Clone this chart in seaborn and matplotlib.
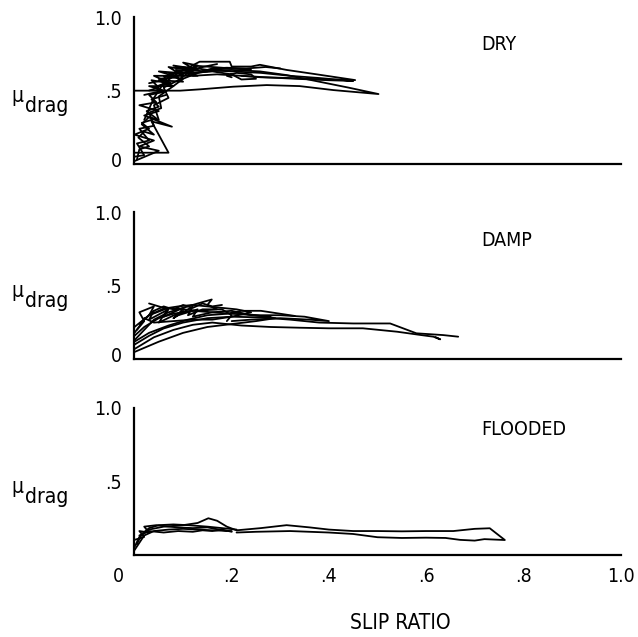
import pandas as pd
import matplotlib
matplotlib.use("Agg")
import matplotlib.pyplot as plt
import matplotlib.transforms as mtransforms
import seaborn as sns

sns.set_theme(style="white")
plt.rcParams["font.family"] = ["Liberation Sans Narrow", "DejaVu Sans"]
plt.rcParams["font.stretch"] = "condensed"
plt.rcParams["text.color"] = "black"

SLIP_TICKS = [0, 0.2, 0.4, 0.6, 0.8, 1.0]
SLIP_LABELS = ["0", ".2", ".4", ".6", ".8", "1.0"]
MU_TICKS = [0, 0.5, 1.0]
MU_LABELS = ["0", ".5", "1.0"]
PANELS = ["DRY", "DAMP", "FLOODED"]

# traced runs (slip ratio, mu_drag)
dry1_x = [0.0, 0.094, 0.135, 0.203, 0.272, 0.34, 0.409, 0.502, 0.44, 0.38, 0.313, 0.258, 0.20, 0.15, 0.11]
dry1_y = [0.499, 0.499, 0.508, 0.526, 0.537, 0.53, 0.503, 0.476, 0.52, 0.56, 0.605, 0.63, 0.64, 0.63, 0.61]
dry2_x = [0.02, 0.04, 0.06, 0.09, 0.134, 0.196, 0.20, 0.24, 0.258, 0.313, 0.375, 0.454, 0.39, 0.32, 0.26, 0.22, 0.17, 0.12]
dry2_y = [0.30, 0.45, 0.55, 0.62, 0.696, 0.696, 0.663, 0.663, 0.675, 0.64, 0.61, 0.571, 0.575, 0.585, 0.59, 0.60, 0.61, 0.60]
dry3_x = [0.12, 0.16, 0.20, 0.22, 0.25, 0.24, 0.21, 0.19, 0.20]
dry3_y = [0.62, 0.63, 0.61, 0.575, 0.58, 0.61, 0.62, 0.60, 0.59]
dry4_x = [0.0, 0.07, 0.035, 0.077, 0.02, 0.05, 0.01, 0.045, 0.03, 0.06, 0.04, 0.075, 0.06, 0.09, 0.12]
dry4_y = [0.077, 0.077, 0.29, 0.254, 0.33, 0.36, 0.40, 0.42, 0.47, 0.49, 0.52, 0.55, 0.58, 0.60, 0.64]
dry5_x = [0.005, 0.01, 0.03, 0.008, 0.02, 0.04, 0.015, 0.03, 0.05, 0.04, 0.07, 0.06, 0.09, 0.11, 0.14, 0.17]
dry5_y = [0.03, 0.10, 0.12, 0.18, 0.22, 0.20, 0.27, 0.32, 0.30, 0.40, 0.45, 0.52, 0.57, 0.62, 0.66, 0.68]
dry6_x = [0.0, 0.02, 0.005, 0.03, 0.01, 0.04, 0.03, 0.055, 0.05, 0.08, 0.10, 0.13, 0.16, 0.19, 0.23, 0.27, 0.30]
dry6_y = [0.05, 0.06, 0.14, 0.16, 0.24, 0.26, 0.35, 0.38, 0.46, 0.53, 0.58, 0.62, 0.65, 0.655, 0.65, 0.66, 0.65]
dry7_x = [0.03, 0.06, 0.04, 0.08, 0.05, 0.09, 0.07, 0.11, 0.08, 0.12, 0.10, 0.13, 0.11, 0.14]
dry7_y = [0.55, 0.57, 0.60, 0.60, 0.63, 0.62, 0.66, 0.64, 0.67, 0.65, 0.69, 0.67, 0.63, 0.66]
dry8_x = [0.03, 0.05, 0.035, 0.07, 0.06, 0.10, 0.09, 0.12, 0.11, 0.15, 0.20]
dry8_y = [0.50, 0.52, 0.57, 0.55, 0.60, 0.58, 0.63, 0.61, 0.66, 0.64, 0.65]
dry9_x = [0.0, 0.05, 0.01, 0.04, 0.0, 0.03, 0.015, 0.045, 0.025, 0.05, 0.035, 0.065]
dry9_y = [0.02, 0.09, 0.12, 0.16, 0.20, 0.24, 0.28, 0.31, 0.36, 0.39, 0.44, 0.47]
dry10_x = [0.04, 0.07, 0.05, 0.09, 0.07, 0.10, 0.085, 0.12, 0.10, 0.13, 0.12, 0.16, 0.20, 0.24]
dry10_y = [0.52, 0.56, 0.58, 0.59, 0.62, 0.61, 0.64, 0.63, 0.66, 0.645, 0.67, 0.66, 0.65, 0.64]
dry11_x = [0.02, 0.06, 0.03, 0.08, 0.05, 0.10, 0.08, 0.13, 0.10, 0.15]
dry11_y = [0.47, 0.50, 0.53, 0.53, 0.57, 0.56, 0.60, 0.60, 0.64, 0.63]
dry12_x = [0.14, 0.20, 0.26, 0.32, 0.38, 0.45, 0.40, 0.33, 0.27, 0.22]
dry12_y = [0.64, 0.63, 0.62, 0.60, 0.585, 0.565, 0.57, 0.58, 0.59, 0.60]

damp1_x = [0.0, 0.03, 0.06, 0.10, 0.15, 0.20, 0.26, 0.32, 0.38, 0.45, 0.526, 0.58, 0.635, 0.666]
damp1_y = [0.10, 0.16, 0.21, 0.25, 0.28, 0.29, 0.285, 0.27, 0.25, 0.244, 0.244, 0.177, 0.165, 0.154]
damp2_x = [0.0, 0.04, 0.08, 0.12, 0.16, 0.22, 0.28, 0.34, 0.40, 0.47, 0.54, 0.59, 0.615, 0.629, 0.62]
damp2_y = [0.07, 0.15, 0.20, 0.235, 0.25, 0.23, 0.22, 0.215, 0.211, 0.211, 0.188, 0.165, 0.154, 0.136, 0.15]
damp3_x = [0.0, 0.02, 0.05, 0.08, 0.12, 0.16, 0.20, 0.25, 0.30, 0.35, 0.40, 0.36, 0.30, 0.24, 0.20]
damp3_y = [0.16, 0.22, 0.28, 0.31, 0.33, 0.32, 0.31, 0.30, 0.30, 0.29, 0.26, 0.27, 0.28, 0.27, 0.26]
damp4_x = [0.0, 0.02, 0.04, 0.07, 0.10, 0.13, 0.159, 0.15, 0.17, 0.13, 0.10, 0.06, 0.03]
damp4_y = [0.13, 0.20, 0.27, 0.32, 0.35, 0.38, 0.407, 0.37, 0.34, 0.33, 0.34, 0.35, 0.38]
damp5_x = [0.005, 0.02, 0.01, 0.04, 0.03, 0.07, 0.05, 0.10, 0.08, 0.12, 0.11, 0.14, 0.18, 0.20, 0.19]
damp5_y = [0.20, 0.26, 0.32, 0.36, 0.30, 0.35, 0.25, 0.33, 0.28, 0.36, 0.30, 0.34, 0.34, 0.30, 0.26]
damp6_x = [0.0, 0.03, 0.06, 0.09, 0.12, 0.15, 0.18, 0.21, 0.24, 0.20, 0.16, 0.12, 0.08, 0.04, 0.02]
damp6_y = [0.22, 0.30, 0.345, 0.36, 0.37, 0.36, 0.35, 0.34, 0.32, 0.29, 0.27, 0.27, 0.26, 0.25, 0.28]
damp7_x = [0.0, 0.03, 0.07, 0.11, 0.15, 0.19, 0.22, 0.26, 0.30, 0.33]
damp7_y = [0.12, 0.18, 0.23, 0.27, 0.30, 0.31, 0.33, 0.33, 0.31, 0.295]
damp8_x = [0.0, 0.02, 0.04, 0.06, 0.08, 0.10, 0.12, 0.14, 0.16, 0.18]
damp8_y = [0.18, 0.27, 0.33, 0.36, 0.34, 0.37, 0.35, 0.38, 0.36, 0.37]
damp9_x = [0.01, 0.04, 0.03, 0.07, 0.06, 0.10, 0.09, 0.13, 0.12, 0.16, 0.20, 0.24, 0.28]
damp9_y = [0.24, 0.33, 0.27, 0.34, 0.29, 0.35, 0.30, 0.34, 0.29, 0.32, 0.33, 0.30, 0.29]
damp10_x = [0.0, 0.05, 0.10, 0.15, 0.20, 0.25, 0.29, 0.25, 0.20]
damp10_y = [0.05, 0.12, 0.18, 0.22, 0.24, 0.26, 0.28, 0.30, 0.32]

flood1_x = [0.0, 0.01, 0.03, 0.06, 0.10, 0.13, 0.152, 0.17, 0.19, 0.21, 0.26, 0.313, 0.36, 0.40, 0.45,
            0.50, 0.55, 0.60, 0.656, 0.70, 0.731, 0.762, 0.72, 0.70, 0.67, 0.64, 0.60, 0.55, 0.50, 0.45,
            0.40, 0.32, 0.25, 0.21]
flood1_y = [0.05, 0.12, 0.17, 0.19, 0.20, 0.215, 0.247, 0.23, 0.19, 0.165, 0.18, 0.20, 0.185, 0.17, 0.16,
            0.16, 0.158, 0.16, 0.16, 0.175, 0.179, 0.099, 0.105, 0.095, 0.10, 0.113, 0.115, 0.113, 0.118, 0.14,
            0.15, 0.16, 0.155, 0.15]
flood2_x = [0.0, 0.01, 0.02, 0.04, 0.07, 0.10, 0.13, 0.16, 0.20]
flood2_y = [0.03, 0.08, 0.13, 0.16, 0.17, 0.175, 0.17, 0.165, 0.16]
flood3_x = [0.005, 0.015, 0.03, 0.05, 0.08, 0.11, 0.15, 0.18, 0.21]
flood3_y = [0.07, 0.14, 0.18, 0.20, 0.205, 0.20, 0.19, 0.18, 0.17]
flood4_x = [0.0, 0.02, 0.01, 0.03, 0.02, 0.045, 0.07, 0.09, 0.12, 0.15, 0.19]
flood4_y = [0.10, 0.12, 0.16, 0.15, 0.19, 0.20, 0.19, 0.185, 0.18, 0.185, 0.16]
flood5_x = [0.01, 0.03, 0.06, 0.09, 0.12, 0.14, 0.16, 0.18, 0.20]
flood5_y = [0.13, 0.16, 0.15, 0.16, 0.155, 0.165, 0.16, 0.17, 0.155]

RUNS = {
    "DRY": [(dry1_x, dry1_y), (dry2_x, dry2_y), (dry3_x, dry3_y), (dry4_x, dry4_y),
            (dry5_x, dry5_y), (dry6_x, dry6_y), (dry7_x, dry7_y), (dry8_x, dry8_y),
            (dry9_x, dry9_y), (dry10_x, dry10_y), (dry11_x, dry11_y), (dry12_x, dry12_y)],
    "DAMP": [(damp1_x, damp1_y), (damp2_x, damp2_y), (damp3_x, damp3_y), (damp4_x, damp4_y),
             (damp5_x, damp5_y), (damp6_x, damp6_y), (damp7_x, damp7_y), (damp8_x, damp8_y),
             (damp9_x, damp9_y), (damp10_x, damp10_y)],
    "FLOODED": [(flood1_x, flood1_y), (flood2_x, flood2_y), (flood3_x, flood3_y),
                (flood4_x, flood4_y), (flood5_x, flood5_y)],
}


def runs_frame(runs):
    rows = []
    for i, (xs, ys) in enumerate(runs):
        for j, (x, y) in enumerate(zip(xs, ys)):
            rows.append({"run": i, "order": j, "slip": x, "mu": y})
    return pd.DataFrame(rows)


fig = plt.figure(figsize=(6.38, 6.37), dpi=100)
left, width, height = 0.2108, 0.7618, 0.2308
bottoms = [0.7425, 0.4359, 0.1294]
title_y = [0.81, 0.81, 0.85]

for k, name in enumerate(PANELS):
    ax = fig.add_axes([left, bottoms[k], width, height])
    df = runs_frame(RUNS[name])
    sns.lineplot(data=df, x="slip", y="mu", units="run", estimator=None, sort=False,
                 color="black", linewidth=1.3, legend=False, ax=ax)
    ax.set_xlim(0, 1.0)
    ax.set_ylim(0, 1.0)
    sns.despine(ax=ax)
    for side in ["left", "bottom"]:
        ax.spines[side].set_color("black")
        ax.spines[side].set_linewidth(1.6)
    ax.set_xlabel("")
    ax.set_ylabel("")
    ax.tick_params(direction="in", length=7, width=1.4, pad=9, labelsize=14, colors="black")
    ax.set_xticks(SLIP_TICKS)
    if k == 2:
        ax.set_xticklabels(SLIP_LABELS)
        ax.set_yticks(MU_TICKS[1:])
        ax.set_yticklabels(MU_LABELS[1:])
        shift = mtransforms.ScaledTranslation(-16 / 100, 0, fig.dpi_scale_trans)
        for lbl in ax.get_xticklabels():
            if lbl.get_text() == "0":
                lbl.set_transform(lbl.get_transform() + shift)
    else:
        ax.set_xticklabels([])
        ax.set_yticks(MU_TICKS)
        ax.set_yticklabels(MU_LABELS)
        shift = mtransforms.ScaledTranslation(0, 5 / 100, fig.dpi_scale_trans)
        for lbl in ax.get_yticklabels():
            if lbl.get_text() == "0":
                lbl.set_transform(lbl.get_transform() + shift)
    ax.text(0.713, title_y[k], name, transform=ax.transAxes, fontsize=14, ha="left", va="center")
    # mu with a full-size "drag" subscript, as typed on the original figure
    ax.text(-0.229, 0.422, "\u03bc", transform=ax.transAxes, fontsize=15, ha="right", va="baseline")
    ax.text(-0.226, 0.354, "drag", transform=ax.transAxes, fontsize=15, ha="left", va="baseline")

fig.text(400 / 638, 1 - 623 / 637, "SLIP RATIO", fontsize=15, ha="center", va="center")

fig.savefig("out.png", dpi=100)
